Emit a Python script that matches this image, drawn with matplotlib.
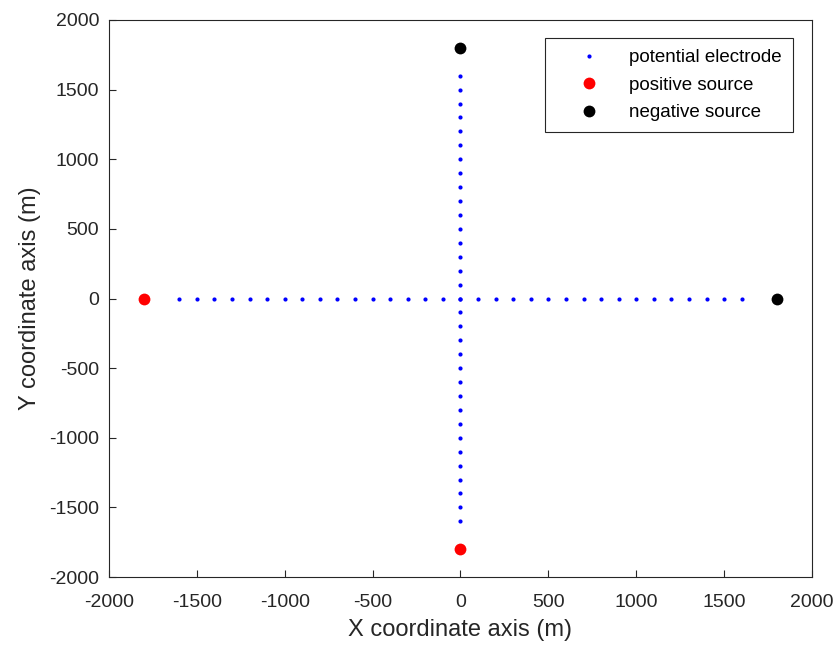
import matplotlib.pyplot as plt
import numpy as np

plt.rcParams["font.family"] = ["Liberation Sans", "DejaVu Sans"]
plt.rcParams["axes.unicode_minus"] = False

# electrode positions along the two survey lines (m)
line_x = np.arange(-1600, 1601, 100)
line_y = np.arange(-1600, 1601, 100)
elec_x = np.concatenate([line_x, np.zeros_like(line_y)])
elec_y = np.concatenate([np.zeros_like(line_x), line_y])

pos_x = [-1800, 0]
pos_y = [0, -1800]
neg_x = [1800, 0]
neg_y = [0, 1800]

fig = plt.figure(figsize=(8.37, 6.46), dpi=100)
ax = fig.add_axes([109 / 837, 1 - 577 / 646, 703 / 837, 557 / 646])

ax.plot(elec_x, elec_y, "o", color="#0000ff", ms=3, mew=0, label="potential electrode")
ax.plot(pos_x, pos_y, "o", color="#ff0000", ms=8.5, mew=0, label="positive source")
ax.plot(neg_x, neg_y, "o", color="#000000", ms=8.5, mew=0, label="negative source")

ax.set_xlim(-2000, 2000)
ax.set_ylim(-2000, 2000)
ax.set_xticks(np.arange(-2000, 2001, 500))
ax.set_yticks(np.arange(-2000, 2001, 500))
ax.tick_params(direction="in", labelsize=14, length=5, width=0.8,
               top=False, right=False, colors="#262626")
ax.tick_params(axis="x", pad=12)
ax.tick_params(axis="y", pad=7)
for s in ax.spines.values():
    s.set_linewidth(0.8)
    s.set_color("#262626")
ax.set_xlabel("X coordinate axis (m)", fontsize=17, color="#262626", labelpad=6)
ax.set_ylabel("Y coordinate axis (m)", fontsize=17, color="#262626", labelpad=6)

leg = ax.legend(loc="upper right", bbox_to_anchor=(0.973, 0.968), borderaxespad=0,
                fontsize=13.5, fancybox=False, edgecolor="#262626", framealpha=1,
                handlelength=3.5, handletextpad=0.4, borderpad=0.6, labelspacing=0.55)
leg.get_frame().set_linewidth(0.8)

fig.savefig("out.png", dpi=100)
